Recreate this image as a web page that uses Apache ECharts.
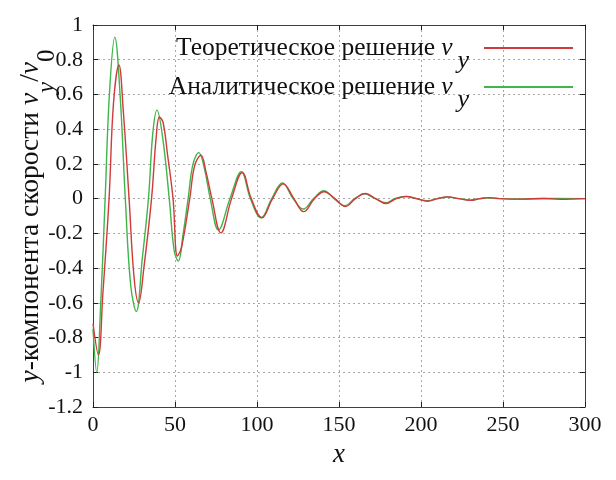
<!DOCTYPE html>
<html><head><meta charset="utf-8">
<script src="https://cdn.jsdelivr.net/npm/echarts@6/dist/echarts.min.js"></script>
<style>html,body{margin:0;padding:0;background:#fff}#c{width:616px;height:480px}</style>
</head><body><div id="c"></div>
<script>
// Theoretical solution v_y (red): x, v_y/v_0
const theoX = [0,3.3,6,9.8,12.5,15.8,18.5,22,25,27.8,31,35.7,38.5,40.5,42.7,45.5,48.8,51.5,54,59,62,65.8,69,72.5,78,84.5,91,96.5,103,109.5,116,122.5,128.5,135,141,147.5,154,160,166,172.5,178.5,185,191,197.5,204,210,216.5,223,230,236,241.5,248,262,275,285,300];
const theoY = [-0.72,-0.9,-0.55,0,0.55,0.77,0.5,0,-0.45,-0.6,-0.4,0,0.35,0.47,0.44,0.25,0,-0.33,-0.28,0,0.19,0.25,0.15,0,-0.197,0,0.15,0,-0.11,0,0.085,0,-0.075,0,0.04,0,-0.045,0,0.03,0,-0.028,0,0.012,0,-0.015,0,0.01,0,-0.01,0,0.006,0,-0.003,0.001,-0.004,0];
// Analytical solution v_y (green)
const analX = [0,2.3,4.5,7.4,10,13.3,16.5,19.7,23,26.4,30,33.8,36.5,39,42.5,46.5,49.5,52,55,58,61,64.5,68,71.5,76.5,83.5,90.5,96,102.5,109,115.5,122,128.2,134.5,140.7,147,153.5,159.5,165.5,172,178.5,184,190.3,197,204,210,216,223,230,236,241,248,260,275,300];
const analY = [-0.75,-1.0,-0.65,0,0.6,0.93,0.6,0,-0.5,-0.65,-0.35,0,0.38,0.51,0.35,0,-0.3,-0.36,-0.2,0,0.2,0.265,0.17,0,-0.18,0,0.155,0,-0.11,0,0.09,0,-0.06,0,0.045,0,-0.04,0,0.028,0,-0.024,0,0.013,0,-0.012,0,0.009,0,-0.008,0,0.005,0,-0.002,0.001,0];
const xTicks = {min:0,max:300,interval:50};
const yTicks = {min:-1.2,max:1,interval:0.2};
const nameTheo = 'Теоретическое решение';
const nameAnal = 'Аналитическое решение';

const serif = '"Liberation Serif", "Times New Roman", serif';
const pairs = (xs, ys) => xs.map((x,i)=>[x, ys[i]]);
const chart = echarts.init(document.getElementById('c'), null, {renderer:'canvas'});
const axisLine = {show:true, onZero:false, lineStyle:{color:'#404040', width:1}};
const tick = {show:true, inside:true, length:5, lineStyle:{color:'#202020'}};
const legRich = {
  a:{fontFamily:serif, fontSize:25.5, color:'#111', lineHeight:30, verticalAlign:'middle'},
  v:{fontFamily:serif, fontSize:25.5, fontStyle:'italic', color:'#111', lineHeight:30, verticalAlign:'middle', padding:[0,0,0,6]},
  s:{fontFamily:serif, fontSize:26, fontStyle:'italic', color:'#111', lineHeight:24, verticalAlign:'bottom', padding:[0,10,0,5]},
  z:{lineHeight:52, width:0}
};
const legendFmt = n => '{z|}{a|' + n + '}{v|v}{s|y}';
const legBase = {orient:'vertical', align:'right', right:43, itemWidth:89, itemHeight:2, icon:'rect', padding:0,
  formatter:legendFmt, textStyle:{rich:legRich}};
chart.setOption({
  animation:false,
  grid:{left:93, right:31, top:25, bottom:73, containLabel:false, outerBoundsMode:'none'},
  legend:[
    Object.assign({data:[nameTheo], top:35}, legBase),
    Object.assign({data:[nameAnal], top:74}, legBase)
  ],
  xAxis:[
    {type:'value', min:xTicks.min, max:xTicks.max, interval:xTicks.interval, position:'bottom',
     name:'x', nameLocation:'middle', nameGap:34, nameMoveOverlap:false,
     nameTextStyle:{fontFamily:serif, fontSize:27, fontStyle:'italic', color:'#111'},
     axisLine, axisTick:tick,
     axisLabel:{fontFamily:serif, fontSize:22, color:'#111', margin:7},
     splitLine:{show:true, lineStyle:{color:'#a8a8a8', type:[2,3], width:1}}},
    {type:'value', min:xTicks.min, max:xTicks.max, interval:xTicks.interval, position:'top',
     axisLine, axisTick:tick, axisLabel:{show:false}, splitLine:{show:false}}
  ],
  yAxis:[
    {type:'value', min:yTicks.min, max:yTicks.max, interval:yTicks.interval, position:'left',
     name:'{z|}{i|y}{r|-компонента скорости }{i|v}{si|y}{r|/}{i|v}{sr|0}', nameLocation:'middle', nameGap:33, nameMoveOverlap:false,
     nameTextStyle:{rich:{
       i:{fontFamily:serif, fontSize:27.5, fontStyle:'italic', color:'#111', lineHeight:32, verticalAlign:'top'},
       r:{fontFamily:serif, fontSize:27.5, color:'#111', lineHeight:32, verticalAlign:'top'},
       si:{fontFamily:serif, fontSize:25, fontStyle:'italic', color:'#111', lineHeight:22, verticalAlign:'bottom'},
       sr:{fontFamily:serif, fontSize:25, color:'#111', lineHeight:22, verticalAlign:'bottom'},
       z:{lineHeight:43, width:0}
     }},
     axisLine, axisTick:tick,
     axisLabel:{fontFamily:serif, fontSize:22, color:'#111', margin:10, formatter:v=>String(+v.toFixed(1))},
     splitLine:{show:true, lineStyle:{color:'#a8a8a8', type:[2,3], width:1}}},
    {type:'value', min:yTicks.min, max:yTicks.max, interval:yTicks.interval, position:'right',
     axisLine, axisTick:tick, axisLabel:{show:false}, splitLine:{show:false}}
  ],
  series:[
    {name:nameTheo, type:'line', data:pairs(theoX, theoY), smooth:0.4, showSymbol:false,
     color:'#d03a3a', lineStyle:{width:1.4, color:'#d03a3a'}, z:3},
    {name:nameAnal, type:'line', data:pairs(analX, analY), smooth:0.4, showSymbol:false,
     color:'#3fb54a', lineStyle:{width:1.4, color:'#3fb54a'}, z:2}
  ]
});
</script></body></html>
